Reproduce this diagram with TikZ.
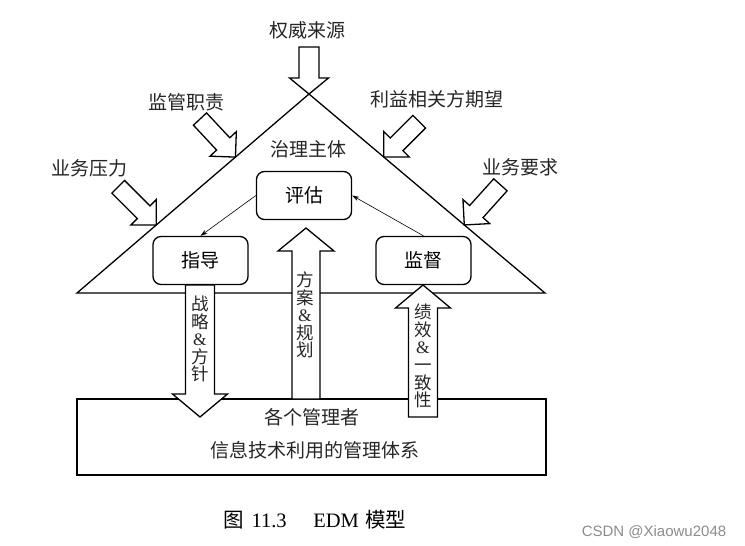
\documentclass[tikz,border=0pt]{standalone}
\usepackage{fontspec}
\setmainfont{Liberation Serif}
\newfontfamily\cjk{Noto Sans CJK SC}
\newfontfamily\wmfont{Liberation Sans}
\usetikzlibrary{calc,arrows.meta}
% #1 tip, #2 angle, #3 total length, #4 shaft half width, #5 head half width, #6 head length
\newcommand{\blockarrow}[6]{%
  \begin{scope}[shift={#1},rotate=#2]
    \draw[bigarrow] (0,0) -- (-#6,#5) -- (-#6,#4) -- (-#3,#4) -- (-#3,-#4)
      -- (-#6,-#4) -- (-#6,-#5) -- cycle;
  \end{scope}}
\tikzset{
  frame/.style={line width=1.3pt, draw=black},
  bigarrow/.style={line width=1.3pt, draw=black, fill=white, line join=miter},
  roundbox/.style={draw=black, line width=1.3pt, rounded corners=8pt, fill=white,
     minimum width=95pt, minimum height=48pt, font=\cjk\fontsize{19}{21}\selectfont},
  lbl/.style={font=\cjk\fontsize{19}{21}\selectfont, text=black!85, inner sep=0pt},
  vlbl/.style={font=\cjk\fontsize{17.5}{17.6}\selectfont, align=center, text=black!85, inner sep=0pt},
  thinarrow/.style={line width=0.6pt, -{Stealth[length=7pt,width=4.5pt]}},
}
\begin{document}
\begin{tikzpicture}[x=1pt,y=-1pt]
\fill[white] (0,0) rectangle (745,546);
\useasboundingbox (0,0) rectangle (745,546);

% triangle and base rectangle
\coordinate (apex) at (309,94);
\coordinate (bl) at (77,293);
\coordinate (br) at (545,293);
\draw[frame, line join=miter] (bl) -- (apex) -- (br) -- cycle;
\node[draw=black, line width=1.3pt, minimum width=469pt, minimum height=76pt, inner sep=0pt]
  (sys) at (311.5,437) {};

% tips of the incoming arrows on the triangle sides
\coordinate (tl1) at ($(apex)!0.317!(bl)$);
\coordinate (tl2) at ($(apex)!0.658!(bl)$);
\coordinate (tr1) at ($(apex)!0.317!(br)$);
\coordinate (tr2) at ($(apex)!0.658!(br)$);

% incoming arrows
\blockarrow{(apex)}{-90}{47}{10}{19.5}{16}
\blockarrow{(tl1)}{-47}{52}{9}{18}{18}
\blockarrow{(tl2)}{-45}{54}{9}{18}{18}
\blockarrow{(tr1)}{-135}{50}{9}{18}{18}
\blockarrow{(tr2)}{-132}{54}{9}{18}{18}

% boxes
\node[roundbox] (pg) at (304,195.5) {评估};
\node[roundbox] (zd) at (200.5,260.5) {指导};
\node[roundbox] (jd) at (423.5,260.5) {监督};

% thin arrows
\draw[thinarrow] (pg.west) -- (zd.north);
\draw[thinarrow] (jd.north) -- (pg.east);

% vertical block arrows
\coordinate (tipzl) at (200,417);
\coordinate (tipfa) at (306,228);
\coordinate (tipjx) at (423,285);
\blockarrow{(tipzl)}{-90}{132}{14.5}{27.5}{23}
\blockarrow{(tipfa)}{90}{171}{14}{28}{23}
\blockarrow{(tipjx)}{90}{132}{14.5}{27.5}{23}

% labels
\node[lbl] (l1) at (307,30) {权威来源};
\node[lbl] (l2) at (186,102) {监管职责};
\node[lbl] (l3) at (437,99) {利益相关方期望};
\node[lbl] (l4) at (89,168) {业务压力};
\node[lbl] (l5) at (520,167) {业务要求};
\node[lbl] (l6) at (308,149) {治理主体};
\node[lbl] (l7) at (312,417) {各个管理者};
\node[lbl] (l8) at (315,450) {信息技术利用的管理体系};

\node[vlbl] (v1) at (200,339) {战\\略\\{\rmfamily\&}\\方\\针};
\node[vlbl] (v2) at (305,315) {方\\案\\{\rmfamily\&}\\规\\划};
\node[vlbl] (v3) at (423,356) {绩\\效\\{\rmfamily\&}\\一\\致\\性};

% caption and watermark
\node[inner sep=0pt, font=\fontsize{20.5}{22}\selectfont] (cap) at (315,520)
  {{\cjk 图}\hspace{0.35em}11.3\hspace{1.3em}EDM\hspace{0.3em}{\cjk 模型}};
\node[inner sep=0pt, font=\wmfont\fontsize{15}{17}\selectfont, text=black!45] (wm) at (654,532)
  {CSDN @Xiaowu2048};
\end{tikzpicture}
\end{document}
